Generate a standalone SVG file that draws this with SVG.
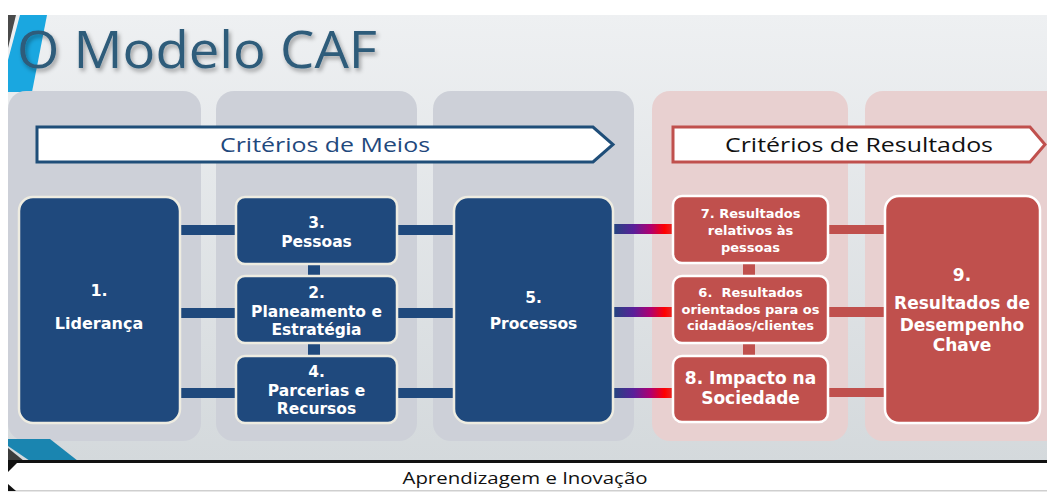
<svg xmlns="http://www.w3.org/2000/svg" width="1047" height="492" viewBox="0 0 1047 492">
  <defs>
    <linearGradient id="bg" x1="0" y1="0" x2="0" y2="1">
      <stop offset="0" stop-color="#eef0f2"/>
      <stop offset="1" stop-color="#d4d9dc"/>
    </linearGradient>
    <linearGradient id="grad" x1="0" y1="0" x2="1" y2="0">
      <stop offset="0" stop-color="#1f497d"/>
      <stop offset="0.35" stop-color="#5a1f9a"/>
      <stop offset="0.62" stop-color="#b00070"/>
      <stop offset="0.85" stop-color="#ff0000"/>
      <stop offset="1" stop-color="#e0302f"/>
    </linearGradient>
    <filter id="shadow" x="-5%" y="-20%" width="110%" height="140%">
      <feDropShadow dx="2" dy="3" stdDeviation="2" flood-color="#000" flood-opacity="0.35"/>
    </filter>
    <style>
      .panel-g { fill: #cdd0d8; }
      .panel-r { fill: #e8d0d0; }
      .bnode { fill: #1f497d; stroke: #eeece1; stroke-width: 2.5; }
      .rnode { fill: #c0504d; stroke: #ffffff; stroke-width: 2.5; }
      .bbar { fill: #1f497d; }
      .rbar { fill: #c0504d; }
      .t { font-family: "DejaVu Sans", Roboto, sans-serif; font-weight: bold; fill: #ffffff; text-anchor: middle; }
      .hdr { font-family: "Open Sans", "Noto Sans", "DejaVu Sans", sans-serif; font-size: 20px; text-anchor: middle; }
    </style>
  </defs>

  <!-- background -->
  <rect x="0" y="0" width="1047" height="492" fill="#ffffff"/>
  <rect x="8" y="15" width="1039" height="446" fill="url(#bg)"/>
  <polygon points="8,15 16,15 8,48" fill="#4a4a4a"/>
  <polygon points="20,15 47,15 32,92 8,92 8,60" fill="#1aa7e0"/>

  <!-- panels -->
  <rect class="panel-g" x="8" y="91" width="193" height="350" rx="18"/>
  <rect class="panel-g" x="216" y="91" width="201" height="350" rx="18"/>
  <rect class="panel-g" x="433" y="91" width="201" height="350" rx="18"/>
  <rect class="panel-r" x="652" y="91" width="196" height="350" rx="18"/>
  <rect class="panel-r" x="865" y="91" width="200" height="350" rx="18"/>

  <!-- bottom-left decoration -->
  <polygon points="8,439 50,439 78,461 30,461 8,446" fill="#1a85b0"/>
  <polygon points="8,448 24,461 8,461" fill="#3c3c3c"/>

  <!-- title -->
  <text x="17" y="68" font-family="Open Sans, Noto Sans, sans-serif" font-size="52" fill="#2e5b7a" textLength="360" lengthAdjust="spacingAndGlyphs" filter="url(#shadow)">O Modelo CAF</text>

  <!-- banners -->
  <g id="banner-meios">
    <polygon points="37,127 593,127 613,144.5 593,162 37,162" fill="#ffffff" stroke="#1f4e79" stroke-width="3" stroke-linejoin="miter"/>
    <text class="hdr" x="325" y="151.5" fill="#1f497d" textLength="210" lengthAdjust="spacingAndGlyphs">Critérios de Meios</text>
  </g>
  <g id="banner-resultados">
    <polygon points="673,127 1030,127 1045,144.5 1030,162 673,162" fill="#ffffff" stroke="#c0504d" stroke-width="3"/>
    <text class="hdr" x="859" y="151.5" fill="#111111" textLength="268" lengthAdjust="spacingAndGlyphs">Critérios de Resultados</text>
  </g>

  <!-- connectors -->
  <g id="connectors">
    <rect class="bbar" x="165" y="225" width="300" height="10"/>
    <rect class="bbar" x="165" y="308" width="300" height="10"/>
    <rect class="bbar" x="165" y="388" width="300" height="10"/>
    <rect class="bbar" x="308" y="260" width="12" height="20"/>
    <rect class="bbar" x="308" y="340" width="12" height="20"/>
    <rect fill="url(#grad)" x="612" y="224" width="62" height="10"/>
    <rect fill="url(#grad)" x="612" y="307" width="62" height="10"/>
    <rect fill="url(#grad)" x="612" y="388" width="62" height="10"/>
    <rect class="rbar" x="743" y="260" width="12" height="20"/>
    <rect class="rbar" x="743" y="340" width="12" height="20"/>
    <rect class="rbar" x="826" y="225" width="62" height="9"/>
    <rect class="rbar" x="826" y="307" width="62" height="10"/>
    <rect class="rbar" x="826" y="388" width="62" height="9"/>
  </g>

  <!-- nodes -->
  <g id="node-1">
    <rect class="bnode" x="19" y="197" width="161" height="226" rx="14"/>
    <text class="t" font-size="16"><tspan x="99" y="296">1.</tspan><tspan x="99" y="329">Liderança</tspan></text>
  </g>
  <g id="node-3">
    <rect class="bnode" x="236" y="197" width="161" height="67" rx="9"/>
    <text class="t" font-size="15.5"><tspan x="316.5" y="228">3.</tspan><tspan x="316.5" y="247">Pessoas</tspan></text>
  </g>
  <g id="node-2">
    <rect class="bnode" x="236" y="276" width="161" height="67" rx="9"/>
    <text class="t" font-size="15.5"><tspan x="316.5" y="298">2.</tspan><tspan x="316.5" y="316.5">Planeamento e</tspan><tspan x="316.5" y="335">Estratégia</tspan></text>
  </g>
  <g id="node-4">
    <rect class="bnode" x="236" y="356" width="161" height="67" rx="9"/>
    <text class="t" font-size="15.5"><tspan x="316.5" y="377">4.</tspan><tspan x="316.5" y="395.5">Parcerias e</tspan><tspan x="316.5" y="414">Recursos</tspan></text>
  </g>
  <g id="node-5">
    <rect class="bnode" x="454" y="197" width="159" height="226" rx="14"/>
    <text class="t" font-size="15.5"><tspan x="533.5" y="303">5.</tspan><tspan x="533.5" y="329">Processos</tspan></text>
  </g>
  <g id="node-7">
    <rect class="rnode" x="673" y="196" width="155" height="67" rx="9"/>
    <text class="t" font-size="13"><tspan x="750.5" y="218">7. Resultados</tspan><tspan x="750.5" y="235">relativos às</tspan><tspan x="750.5" y="252">pessoas</tspan></text>
  </g>
  <g id="node-6">
    <rect class="rnode" x="673" y="276" width="155" height="67" rx="9"/>
    <text class="t" font-size="13" xml:space="preserve"><tspan x="750.5" y="297">6.  Resultados</tspan><tspan x="750.5" y="313.5">orientados para os</tspan><tspan x="750.5" y="330">cidadãos/clientes</tspan></text>
  </g>
  <g id="node-8">
    <rect class="rnode" x="673" y="356" width="155" height="66" rx="9"/>
    <text class="t" font-size="17"><tspan x="750.5" y="384">8. Impacto na</tspan><tspan x="750.5" y="404">Sociedade</tspan></text>
  </g>
  <g id="node-9">
    <rect class="rnode" x="885" y="196" width="155" height="227" rx="14"/>
    <text class="t" font-size="17"><tspan x="962" y="281">9.</tspan><tspan x="962" y="309">Resultados de</tspan><tspan x="962" y="330.5">Desempenho</tspan><tspan x="962" y="351">Chave</tspan></text>
  </g>

  <!-- bottom bar -->
  <g id="bottom-bar">
    <rect x="8" y="460" width="1039" height="3" fill="#111111"/>
    <rect x="8" y="463" width="1039" height="27" fill="#ffffff"/>
    <rect x="8" y="490" width="1039" height="1.5" fill="#cfcfcf"/>
    <polygon points="8,460 20,460 8,472" fill="#111111"/>
    <polygon points="8,484 16,491 8,491" fill="#111111"/>
    <text x="525" y="484" font-family="Open Sans, Noto Sans, sans-serif" font-size="17" fill="#111111" text-anchor="middle" textLength="245" lengthAdjust="spacingAndGlyphs">Aprendizagem e Inovação</text>
  </g>
</svg>
